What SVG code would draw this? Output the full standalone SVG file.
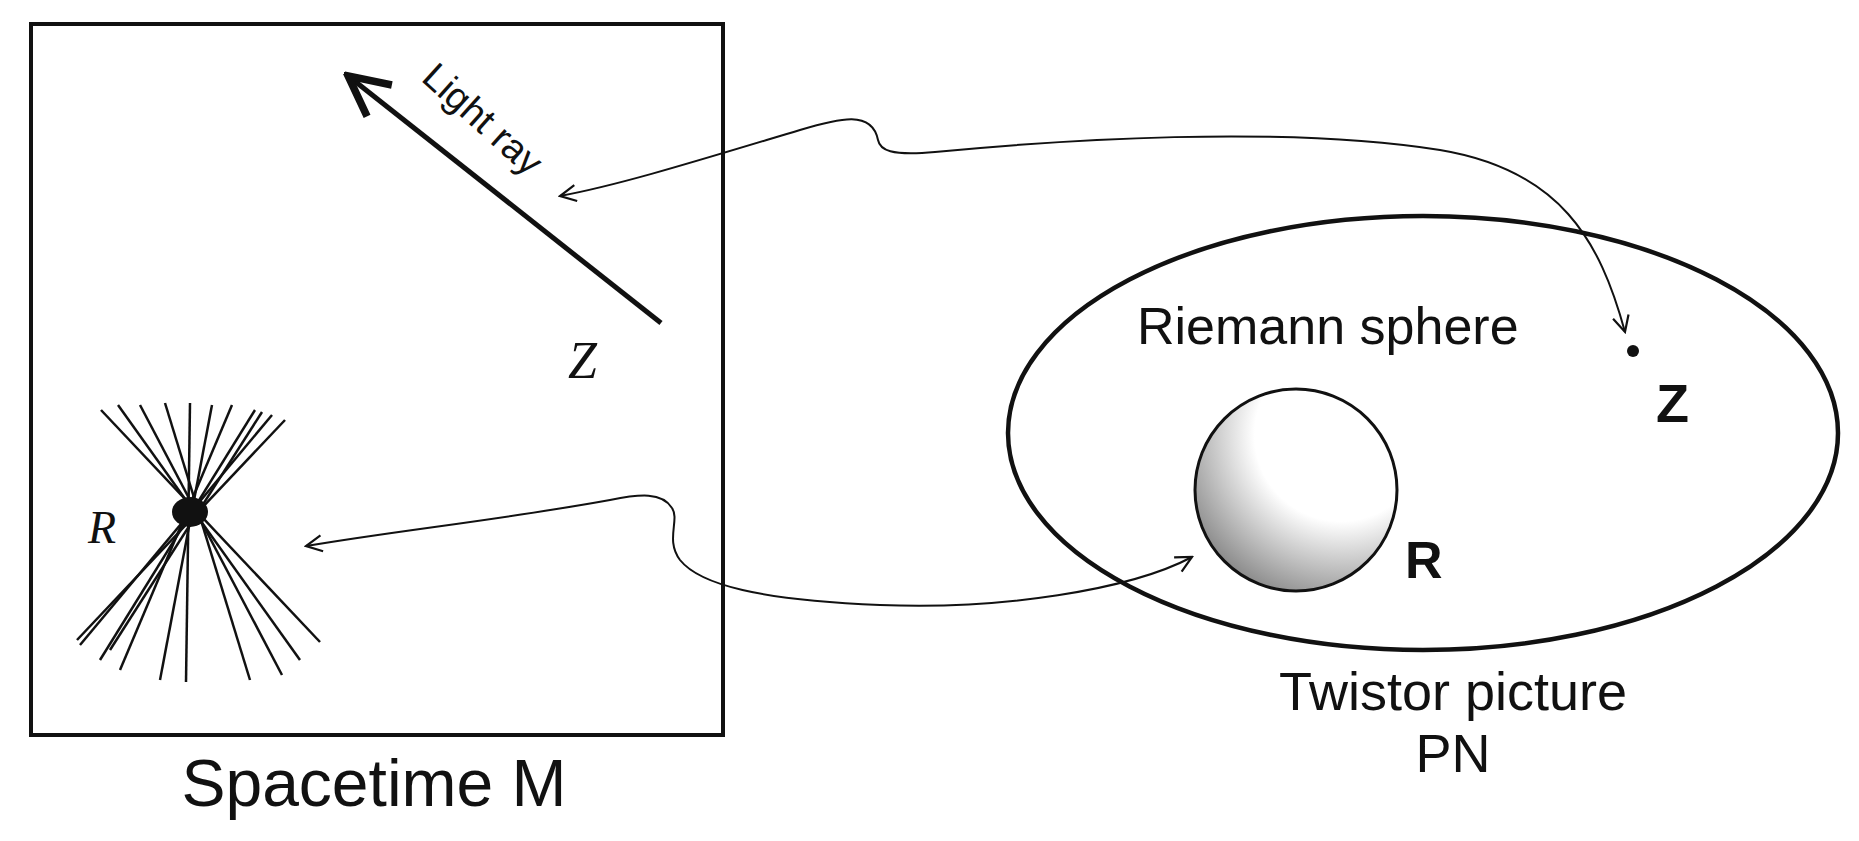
<svg xmlns="http://www.w3.org/2000/svg" width="1859" height="841" viewBox="0 0 1859 841">
<style>
.t{font-family:"Liberation Sans",Arial,sans-serif;fill:#111}
.i{font-family:"Liberation Serif","Times New Roman",serif;font-style:italic;fill:#111}
.c{fill:none;stroke:#111;stroke-width:2}
.cone{stroke:#111;stroke-width:2.5}
</style>
<defs>
<marker id="ah" viewBox="0 0 20 20" refX="18" refY="10" markerWidth="20" markerHeight="20" markerUnits="userSpaceOnUse" orient="auto-start-reverse"><path d="M2,2 L18,10 L2,18" fill="none" stroke="#111" stroke-width="2.2"/></marker>
<marker id="big" viewBox="0 0 20 20" refX="16" refY="10" markerWidth="10" markerHeight="10" orient="auto"><path d="M2,2 L18,10 L2,18" fill="none" stroke="#111" stroke-width="3"/></marker>
<radialGradient id="sh" cx="0.75" cy="0.2" r="0.95" fx="0.7" fy="0.25"><stop offset="0.45" stop-color="#fff"/><stop offset="1" stop-color="#7a7a7a"/></radialGradient>
</defs>
<rect width="1859" height="841" fill="#fff"/>
<g id="spacetime">
<rect x="31" y="24" width="692" height="711" fill="none" stroke="#111" stroke-width="4"/>
<text class="t" x="374" y="806" font-size="66" text-anchor="middle">Spacetime M</text>
</g>
<g id="lightray">
<line x1="661" y1="323" x2="352" y2="79" stroke="#111" stroke-width="5" marker-end="url(#big)"/>
<text class="t" font-size="38" transform="translate(420,80) rotate(42)">Light ray</text>
<text class="i" x="568" y="378" font-size="52">Z</text>
</g>
<g id="cone">
<g class="cone">
<line x1="101" y1="410" x2="320" y2="642"/><line x1="118" y1="405" x2="300" y2="660"/><line x1="140" y1="405" x2="282" y2="675"/>
<line x1="165" y1="403" x2="250" y2="680"/><line x1="190" y1="403" x2="186" y2="682"/><line x1="212" y1="405" x2="160" y2="680"/>
<line x1="232" y1="405" x2="120" y2="670"/><line x1="255" y1="410" x2="100" y2="660"/><line x1="272" y1="415" x2="80" y2="645"/>
<line x1="285" y1="420" x2="77" y2="640"/><line x1="262" y1="412" x2="110" y2="650"/>
</g>
<ellipse cx="190" cy="512" rx="18" ry="15" fill="#111"/>
<text class="i" x="88" y="543" font-size="46">R</text>
</g>
<g id="twistor">
<ellipse cx="1423" cy="433" rx="415" ry="217" fill="none" stroke="#111" stroke-width="4.5"/>
<text class="t" x="1137" y="344" font-size="52">Riemann sphere</text>
<circle cx="1633" cy="351" r="6" fill="#111"/>
<text class="t" x="1656" y="422" font-size="54" font-weight="bold">Z</text>
<circle cx="1296" cy="490" r="101" fill="url(#sh)" stroke="#111" stroke-width="3"/>
<text class="t" x="1405" y="578" font-size="52" font-weight="bold">R</text>
<text class="t" x="1453" y="710" font-size="54" text-anchor="middle">Twistor picture</text>
<text class="t" x="1453" y="772" font-size="54" text-anchor="middle">PN</text>
</g>
<g id="connectors">
<path class="c" d="M1625,332 C1600,240 1560,170 1440,150 C1280,125 1060,140 935,152 C890,156 880,150 878,140 C872,110 840,118 800,130 C700,160 620,185 560,196" marker-start="url(#ah)" marker-end="url(#ah)"/>
<path class="c" d="M1192,557 C1130,590 1000,610 880,605 C760,600 700,585 680,560 C665,540 680,520 672,508 C662,492 640,494 610,500 C500,520 400,530 306,546" marker-start="url(#ah)" marker-end="url(#ah)"/>
</g>
</svg>
